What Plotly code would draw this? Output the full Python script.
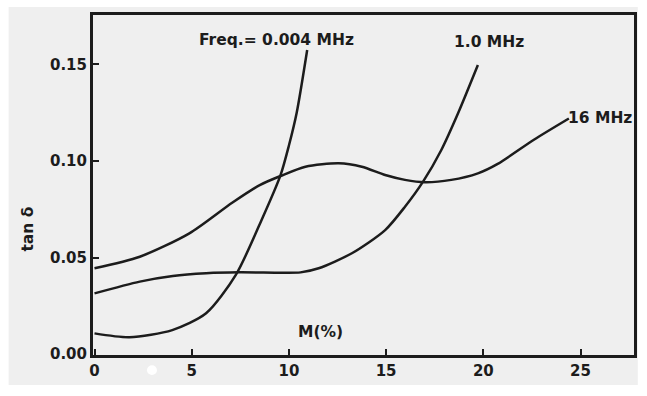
import plotly.graph_objects as go

# Loss tangent (tan δ) versus M (%) at three measurement frequencies
m_004 = [0.0, 1.8, 4.0, 5.74, 7.27, 8.64, 9.57, 10.0, 10.4, 10.94]
tan_004 = [0.0107, 0.0087, 0.0124, 0.0211, 0.041, 0.0705, 0.0927, 0.108, 0.125, 0.1575]

m_1 = [0.0, 2.33, 4.03, 5.74, 7.44, 9.66, 10.6, 11.53, 13.24, 14.95, 15.97, 16.9, 17.84, 18.7, 19.72]
tan_1 = [0.0314, 0.0375, 0.0404, 0.0418, 0.0423, 0.0421, 0.0423, 0.0444, 0.0522, 0.0642,
         0.0763, 0.0893, 0.1057, 0.1247, 0.1497]

m_16 = [0.0, 2.33, 4.88, 7.1, 8.5, 9.57, 10.85, 12.56, 13.75, 14.95, 15.97, 16.99, 18.35,
        19.72, 20.74, 22.6, 24.4]
tan_16 = [0.0444, 0.0504, 0.0625, 0.0785, 0.0875, 0.0922, 0.097, 0.0988, 0.097, 0.0927,
          0.0902, 0.089, 0.0902, 0.0936, 0.0985, 0.111, 0.122]

x_ticks = [0, 5, 10, 15, 20, 25]
y_ticks = [0.0, 0.05, 0.10, 0.15]
y_tick_text = ["0.00", "0.05", "0.10", "0.15"]

INK = "#1c1c1c"
PAPER = "#efefef"
TICK_FONT = dict(family="DejaVu Sans", size=15, color=INK, weight="bold")
LABEL_FONT = dict(family="DejaVu Sans", size=15.5, color=INK, weight="bold")

fig = go.Figure()
for xs, ys in [(m_004, tan_004), (m_1, tan_1), (m_16, tan_16)]:
    fig.add_trace(go.Scatter(
        x=xs, y=ys, mode="lines",
        line=dict(color=INK, width=2.5, shape="spline", smoothing=0.75),
        showlegend=False, hoverinfo="skip",
    ))

axis_common = dict(
    showline=True, linecolor=INK, linewidth=3, mirror=True,
    ticks="inside", ticklen=6, tickwidth=2, tickcolor=INK,
    showgrid=False, zeroline=False, tickfont=TICK_FONT,
)

fig.update_xaxes(range=[-0.077, 27.75], tickvals=x_ticks, **axis_common)
fig.update_yaxes(range=[-0.0005, 0.1756], tickvals=y_ticks, ticktext=y_tick_text,
                 **axis_common)

annotations = [
    dict(x=9.34, y=0.1627, text="Freq.= 0.004 MHz", xref="x", yref="y"),
    dict(x=20.28, y=0.1617, text="1.0 MHz", xref="x", yref="y"),
    dict(x=26.0, y=0.1223, text="16 MHz", xref="x", yref="y"),
    dict(x=11.64, y=0.0114, text="M(%)", xref="x", yref="y"),
    dict(x=-0.1195, y=0.37, text="tan δ", xref="paper", yref="paper", textangle=-90),
]
for a in annotations:
    fig.add_annotation(showarrow=False, font=LABEL_FONT, xanchor="center",
                       yanchor="middle", **a)

# sheet of paper behind the chart, with a white rim around it
fig.add_shape(type="rect", xref="paper", yref="paper", x0=-0.156, x1=1.007,
              y0=-0.088, y1=1.0235, fillcolor=PAPER, line=dict(width=0), layer="below")
fig.add_shape(type="circle", xref="paper", yref="paper", x0=0.0998, x1=0.1182,
              y0=-0.059, y1=-0.030, fillcolor="white", line=dict(width=0), layer="below")

fig.update_layout(
    width=647, height=396,
    margin=dict(l=93, r=10, t=15, b=41),
    paper_bgcolor="white", plot_bgcolor="rgba(0,0,0,0)",
)

fig.write_html("out.html")
